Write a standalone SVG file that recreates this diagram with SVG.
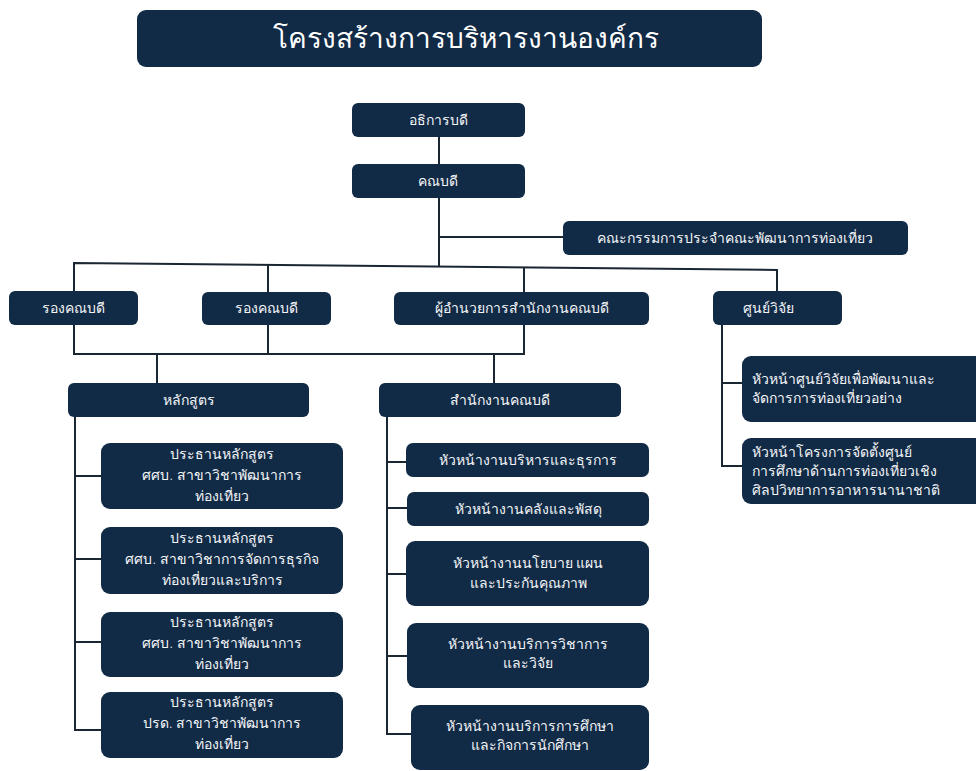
<svg xmlns="http://www.w3.org/2000/svg" width="976" height="771" viewBox="0 0 976 771">
<style>
.box{fill:#112a45;}
.t{fill:#f4f6f9;font-family:"Noto Sans","DejaVu Sans",sans-serif;font-size:14px;font-weight:300;text-anchor:middle;}
.tl{fill:#f4f6f9;font-family:"Noto Sans","DejaVu Sans",sans-serif;font-size:14px;font-weight:300;text-anchor:start;}
.title{fill:#ffffff;font-family:"Noto Sans","DejaVu Sans",sans-serif;font-size:28px;font-weight:300;text-anchor:middle;}
.c{fill:none;stroke:#1b2633;stroke-width:2;}
</style>
<rect width="976" height="771" fill="#ffffff"/>
<g id="connectors">
<path class="c" d="M439 137V164"/>
<path class="c" d="M439 198V267"/>
<path class="c" d="M439 237H563"/>
<path class="c" d="M74 291V263L777 270V291"/>
<path class="c" d="M268 265V292"/>
<path class="c" d="M524 268V292"/>
<path class="c" d="M74 325V354H524V325"/>
<path class="c" d="M268 325V354"/>
<path class="c" d="M157 354V383"/>
<path class="c" d="M494 354V383"/>
<path class="c" d="M75 417V730H101M75 476H101M75 559H101M75 642H101"/>
<path class="c" d="M387 417V735M387 462H406M387 508H407M387 574H406M387 656H407M387 734H411"/>
<path class="c" d="M722 325V466H742M722 383H742"/>
</g>
<g id="title"><rect class="box" x="137" y="10" width="625" height="57" rx="9"/><text class="title" x="466" y="48">โครงสร้างการบริหารงานองค์กร</text></g>
<g id="n-dean-univ"><rect class="box" x="352" y="103" width="173" height="34" rx="6"/><text class="t" x="438" y="125">อธิการบดี</text></g>
<g id="n-dean"><rect class="box" x="352" y="164" width="173" height="34" rx="6"/><text class="t" x="438" y="186">คณบดี</text></g>
<g id="n-committee"><rect class="box" x="563" y="221" width="345" height="34" rx="6"/><text class="t" x="735" y="243">คณะกรรมการประจำคณะพัฒนาการท่องเที่ยว</text></g>
<g id="n-vice1"><rect class="box" x="9" y="291" width="129" height="34" rx="6"/><text class="t" x="73" y="313">รองคณบดี</text></g>
<g id="n-vice2"><rect class="box" x="202" y="292" width="129" height="33" rx="6"/><text class="t" x="266" y="313">รองคณบดี</text></g>
<g id="n-director"><rect class="box" x="394" y="292" width="255" height="33" rx="6"/><text class="t" x="522" y="313">ผู้อำนวยการสำนักงานคณบดี</text></g>
<g id="n-research"><rect class="box" x="713" y="291" width="129" height="34" rx="6"/><text class="t" x="768" y="313">ศูนย์วิจัย</text></g>
<g id="n-curriculum"><rect class="box" x="68" y="383" width="241" height="34" rx="6"/><text class="t" x="189" y="405">หลักสูตร</text></g>
<g id="n-office"><rect class="box" x="379" y="383" width="242" height="34" rx="6"/><text class="t" x="500" y="405">สำนักงานคณบดี</text></g>
<g id="n-prog1"><rect class="box" x="101" y="443" width="242" height="66" rx="9"/><text class="t" x="222" y="459">ประธานหลักสูตร</text><text class="t" x="222" y="480">ศศบ. สาขาวิชาพัฒนาการ</text><text class="t" x="222" y="501">ท่องเที่ยว</text></g>
<g id="n-prog2"><rect class="box" x="101" y="527" width="242" height="67" rx="9"/><text class="t" x="222" y="543">ประธานหลักสูตร</text><text class="t" x="222" y="564">ศศบ. สาขาวิชาการจัดการธุรกิจ</text><text class="t" x="222" y="585">ท่องเที่ยวและบริการ</text></g>
<g id="n-prog3"><rect class="box" x="101" y="612" width="242" height="65" rx="9"/><text class="t" x="222" y="627">ประธานหลักสูตร</text><text class="t" x="222" y="648">ศศบ. สาขาวิชาพัฒนาการ</text><text class="t" x="222" y="669">ท่องเที่ยว</text></g>
<g id="n-prog4"><rect class="box" x="101" y="692" width="242" height="66" rx="9"/><text class="t" x="222" y="707">ประธานหลักสูตร</text><text class="t" x="222" y="728">ปรด. สาขาวิชาพัฒนาการ</text><text class="t" x="222" y="749">ท่องเที่ยว</text></g>
<g id="n-admin"><rect class="box" x="406" y="443" width="243" height="34" rx="7"/><text class="t" x="528" y="465">หัวหน้างานบริหารและธุรการ</text></g>
<g id="n-finance"><rect class="box" x="407" y="492" width="242" height="34" rx="7"/><text class="t" x="528" y="514">หัวหน้างานคลังและพัสดุ</text></g>
<g id="n-policy"><rect class="box" x="406" y="541" width="243" height="65" rx="9"/><text class="t" x="528" y="568">หัวหน้างานนโยบาย แผน</text><text class="t" x="528" y="588">และประกันคุณภาพ</text></g>
<g id="n-service"><rect class="box" x="407" y="623" width="242" height="65" rx="9"/><text class="t" x="528" y="649">หัวหน้างานบริการวิชาการ</text><text class="t" x="528" y="668">และวิจัย</text></g>
<g id="n-student"><rect class="box" x="411" y="705" width="238" height="65" rx="9"/><text class="t" x="530" y="731">หัวหน้างานบริการการศึกษา</text><text class="t" x="530" y="750">และกิจการนักศึกษา</text></g>
<g id="n-rc1"><rect class="box" x="742" y="356" width="250" height="66" rx="9"/><text class="tl" x="752" y="384">หัวหน้าศูนย์วิจัยเพื่อพัฒนาและ</text><text class="tl" x="752" y="403">จัดการการท่องเที่ยวอย่าง</text></g>
<g id="n-rc2"><rect class="box" x="742" y="438" width="250" height="66" rx="9"/><text class="tl" x="752" y="457">หัวหน้าโครงการจัดตั้งศูนย์</text><text class="tl" x="752" y="476">การศึกษาด้านการท่องเที่ยวเชิง</text><text class="tl" x="752" y="495">ศิลปวิทยาการอาหารนานาชาติ</text></g>
</svg>
